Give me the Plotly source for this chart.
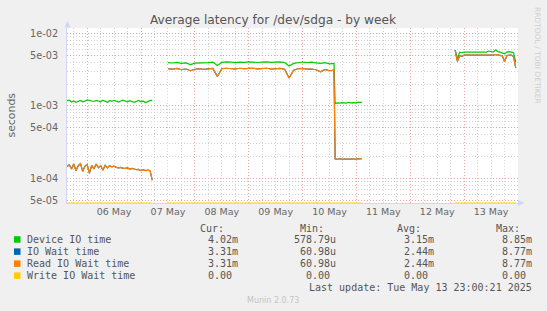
import math
import pandas as pd
import plotly.graph_objects as go

# ---------------- data (values in milliseconds) ----------------
seg1_start, seg1_freq = "2025-05-05 15:00", "1h"
seg2_start, seg2_freq = "2025-05-07 12:00", "2h"
seg3_start, seg3_freq = "2025-05-10 14:30", "1h"
seg4_start, seg4_freq = "2025-05-12 20:00", "1h"

device_seg1 = [1.18, 1.20, 1.13, 1.17, 1.12, 1.15, 1.19, 1.14, 1.16, 1.21,
               1.18, 1.17, 1.15, 1.19, 1.16, 1.14, 1.20, 1.17, 1.12, 1.18,
               1.16, 1.19, 1.15, 1.13, 1.17, 1.20, 1.16, 1.14, 1.18, 1.15,
               1.12, 1.16, 1.19, 1.14, 1.17, 1.11, 1.16, 1.18, 1.20]
read_seg1 = [0.145, 0.155, 0.135, 0.158, 0.128, 0.150, 0.160, 0.125, 0.148, 0.155,
             0.118, 0.152, 0.135, 0.158, 0.140, 0.150, 0.130, 0.152, 0.140, 0.150,
             0.145, 0.148, 0.142, 0.140, 0.142, 0.138, 0.138, 0.140, 0.135, 0.138,
             0.135, 0.132, 0.133, 0.128, 0.132, 0.128, 0.130, 0.128, 0.095]

device_seg2 = [3.95, 3.90, 3.98, 3.85, 3.92, 3.70, 3.88, 3.90, 3.85, 3.95,
               4.02, 3.60, 3.98, 4.05, 4.00, 3.95, 4.02, 3.98, 4.05, 4.00,
               3.96, 4.02, 4.05, 3.98, 4.00, 4.03, 3.95, 3.55, 3.85, 3.98,
               4.02, 3.96, 4.00, 3.92, 3.85, 3.95, 3.80, 3.85]
read_seg2 = [3.25, 3.20, 3.28, 3.15, 3.22, 3.05, 3.20, 3.25, 3.18, 3.22,
             3.28, 2.55, 3.25, 3.30, 3.28, 3.22, 3.30, 3.25, 3.28, 3.30,
             3.24, 3.28, 3.30, 3.22, 3.25, 3.28, 3.20, 2.42, 3.10, 3.25,
             3.28, 3.20, 3.22, 3.15, 2.95, 3.18, 3.05, 3.10]

device_seg3 = [1.08, 1.10, 1.09, 1.11, 1.10, 1.09, 1.12, 1.10, 1.11, 1.10, 1.12, 1.11, 1.12]
read_seg3 = [0.186, 0.184, 0.187, 0.183, 0.185, 0.184, 0.186, 0.185, 0.187, 0.184, 0.186, 0.185, 0.188]

device_seg4 = [5.9, 4.4, 5.5, 5.4, 5.5, 5.5, 5.6, 5.5, 5.5, 5.6,
               5.5, 5.6, 5.5, 5.6, 5.5, 5.7, 5.6, 5.5, 5.9, 5.6,
               5.5, 5.4, 5.2, 5.5, 5.6, 5.5, 5.4, 4.02]
read_seg4 = [5.8, 4.1, 4.9, 4.8, 5.0, 5.0, 4.9, 5.0, 5.0, 5.0,
             4.9, 5.0, 5.0, 5.0, 4.9, 5.0, 5.0, 5.0, 5.1, 5.0,
             5.0, 4.9, 4.05, 4.9, 5.0, 5.0, 4.8, 3.31]

series_names = ["Device IO time", "IO Wait time", "Read IO Wait time", "Write IO Wait time"]
series_colors = ["#00cc00", "#0066b3", "#ff8000", "#ffcc00"]
cur_vals = ["4.02m", "3.31m", "3.31m", "0.00\u00a0"]
min_vals = ["578.79u", "60.98u", "60.98u", "0.00\u00a0"]
avg_vals = ["3.15m", "2.44m", "2.44m", "0.00\u00a0"]
max_vals = ["8.85m", "8.77m", "8.77m", "0.00\u00a0"]

y_tickvals = [5e-5, 1e-4, 5e-4, 1e-3, 5e-3, 1e-2]
y_ticktext = ["5e-05", "1e-04", "5e-04", "1e-03", "5e-03", "1e-02"]

X_RANGE = ["2025-05-05 15:00", "2025-05-14 00:00"]
Y_RANGE = [-4.338, -1.927]

# ---------------- build series ----------------
def times(start, freq, n):
    return list(pd.date_range(start, periods=n, freq=freq).strftime("%Y-%m-%d %H:%M"))

x = (times(seg1_start, seg1_freq, len(device_seg1)) + [None]
     + times(seg2_start, seg2_freq, len(device_seg2))
     + times(seg3_start, seg3_freq, len(device_seg3)) + [None]
     + times(seg4_start, seg4_freq, len(device_seg4)))

def ms(vals):
    return [v * 1e-3 for v in vals]

def join(a, b, c, d):
    return ms(a) + [None] + ms(b) + ms(c) + [None] + ms(d)

device = join(device_seg1, device_seg2, device_seg3, device_seg4)
iowait = join(read_seg1, read_seg2, read_seg3, read_seg4)
readw = join(read_seg1, read_seg2, read_seg3, read_seg4)
write_raw = [None if v is None else 0.0 for v in device]
floor = 10 ** Y_RANGE[0]   # zero values sit on the bottom edge of the log axis
write = [None if v is None else max(v, floor) for v in write_raw]

fig = go.Figure()
widths = [1.2, 1.2, 1.2, 1.0]
for name, ys, col, w in zip(series_names, [device, iowait, readw, write], series_colors, widths):
    fig.add_trace(go.Scatter(x=x, y=ys, mode="lines", name=name,
                             line=dict(color=col, width=w), connectgaps=False,
                             cliponaxis=True, hoverinfo="skip"))

# ---------------- layout ----------------
W, H = 547, 311
L, R, T, B = 67, 518, 28, 203

def px(xp):
    return (xp - L) / (R - L)

def py(yp):
    return (B - yp) / (B - T)

RED = "#eaa4a4"
GRAY = "#d2d2d2"
AXIS = "#cfd6f8"
FONT = "#666666"

fig.update_layout(
    width=W, height=H, autosize=False,
    margin=dict(l=L, r=W - R, t=T, b=H - B, pad=0),
    paper_bgcolor="#f0f0f0", plot_bgcolor="#ffffff",
    showlegend=False,
    font=dict(family="DejaVu Sans", color=FONT, size=10),
)

fig.update_xaxes(
    type="date", range=X_RANGE,
    tick0="2025-05-05 00:00", dtick=86400000, ticklabelmode="period",
    tickformat="%d %b", ticks="", tickfont=dict(size=9.5, color=FONT),
    showgrid=True, gridcolor=RED, griddash="1px,2px", gridwidth=1,
    minor=dict(dtick=21600000, tick0="2025-05-05 00:00", showgrid=True,
               gridcolor=GRAY, griddash="1px,2px", gridwidth=1, ticks=""),
    showline=True, linecolor=AXIS, linewidth=1, zeroline=False,
    fixedrange=True,
)
fig.update_yaxes(
    type="log", range=Y_RANGE,
    tickvals=y_tickvals, ticktext=y_ticktext,
    ticks="", ticklabelstandoff=6, tickfont=dict(size=9.7, color=FONT),
    showgrid=True, gridcolor=RED, griddash="1px,2px", gridwidth=1,
    minor=dict(dtick="D1", showgrid=True, gridcolor=GRAY, griddash="1px,2px",
               gridwidth=1, ticks=""),
    showline=True, linecolor=AXIS, linewidth=1, zeroline=False,
    fixedrange=True,
)

ann = []
def text(t, xp, yp, size, color=FONT, xanchor="center", family="DejaVu Sans", angle=0):
    ann.append(dict(text=t, x=px(xp), y=py(yp), xref="paper", yref="paper",
                    showarrow=False, xanchor=xanchor, yanchor="middle",
                    textangle=angle, borderpad=0,
                    font=dict(size=size, color=color, family=family)))

text("Average latency for /dev/sdga - by week", 273, 20, 12.2, color="#555555")
text("seconds", 11, 115.5, 10.9, angle=-90)
text("RRDTOOL / TOBI OETIKER", 537, 55, 7.5, color="#cfcfcf", angle=90)
text("Munin 2.0.73", 273, 300, 8, color="#c4c4c4")

MONO = "DejaVu Sans Mono"
LEG = "#555555"
head_y = 228
row_ys = [239.5, 251.7, 263.7, 275.7]
head_x = [225, 324.5, 422.2, 520.6]
val_x = [238.5, 336.6, 435.2, 533.2]
for hx, h in zip(head_x, ["Cur:", "Min:", "Avg:", "Max:"]):
    text(h, hx, head_y, 10, color=LEG, xanchor="right", family=MONO)

shapes = []
for i, (name, col) in enumerate(zip(series_names, series_colors)):
    ry = row_ys[i]
    text(name, 26, ry, 10, color=LEG, xanchor="left", family=MONO)
    for vx, vals in zip(val_x, [cur_vals, min_vals, avg_vals, max_vals]):
        text(vals[i], vx, ry, 10, color=LEG, xanchor="right", family=MONO)
    shapes.append(dict(type="rect", xref="paper", yref="paper",
                       x0=px(14), x1=px(20.5), y0=py(ry + 3.2), y1=py(ry - 3.3),
                       fillcolor=col, line=dict(width=0)))

text("Last update: Tue May 13 23:00:21 2025", 533.2, 287.5, 10, color=LEG,
     xanchor="right", family=MONO)

# axis arrows
shapes.append(dict(type="path", xref="paper", yref="paper",
                   path=f"M {px(64.5)} {py(27.5)} L {px(67.5)} {py(21)} L {px(70.5)} {py(27.5)} Z",
                   fillcolor=AXIS, line=dict(width=0)))
shapes.append(dict(type="path", xref="paper", yref="paper",
                   path=f"M {px(518)} {py(200)} L {px(524.5)} {py(203)} L {px(518)} {py(206)} Z",
                   fillcolor=AXIS, line=dict(width=0)))

fig.update_layout(annotations=ann, shapes=shapes)
fig.write_html("out.html")
